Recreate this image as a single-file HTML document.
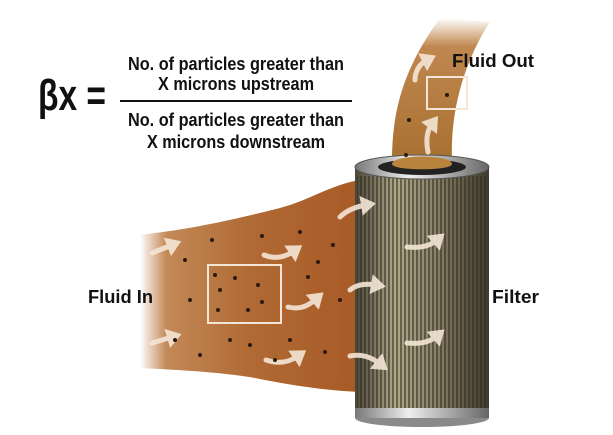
<!DOCTYPE html>
<html><head><style>
body{margin:0;background:#fff;}
svg{display:block}
text{font-family:"Liberation Sans",sans-serif;fill:#111;font-weight:bold}
</style></head><body>
<svg width="613" height="435" viewBox="0 0 613 435" xmlns="http://www.w3.org/2000/svg">
<defs>
<linearGradient id="fin" x1="0" x2="1" y1="0" y2="0">
<stop offset="0" stop-color="#b86a30" stop-opacity="0"/>
<stop offset="0.12" stop-color="#b8743a" stop-opacity="0.85"/>
<stop offset="0.5" stop-color="#b06a34"/>
<stop offset="1" stop-color="#a85a26"/>
</linearGradient>
<linearGradient id="fout" x1="0" x2="0" y1="0" y2="1">
<stop offset="0" stop-color="#c08850" stop-opacity="0"/>
<stop offset="0.2" stop-color="#c08850"/>
<stop offset="1" stop-color="#a87030"/>
</linearGradient>
<linearGradient id="cyl" x1="0" x2="1">
<stop offset="0" stop-color="#4a4636"/>
<stop offset="0.3" stop-color="#b0a888"/>
<stop offset="0.6" stop-color="#8a8266"/>
<stop offset="1" stop-color="#3e3a2c"/>
</linearGradient>
<pattern id="pl" width="4" height="6" patternUnits="userSpaceOnUse">
<rect width="2" height="6" fill="#2e2a20" opacity="0.55"/>
</pattern>
<linearGradient id="cap" x1="0" x2="1">
<stop offset="0" stop-color="#777"/><stop offset="0.4" stop-color="#eee"/><stop offset="1" stop-color="#666"/>
</linearGradient>
<marker id="ah" markerWidth="4" markerHeight="4" refX="1" refY="2" orient="auto" markerUnits="strokeWidth">
<path d="M0 0 L3 2 L0 4Z" fill="#f4e6d6"/>
</marker>
</defs>
<!-- formula -->
<text x="38" y="110" font-size="44" font-weight="normal" textLength="68" lengthAdjust="spacingAndGlyphs">βx =</text>
<text x="236" y="70" font-size="18" text-anchor="middle" textLength="216" lengthAdjust="spacingAndGlyphs">No. of particles greater than</text>
<text x="236" y="90" font-size="18" text-anchor="middle" textLength="156" lengthAdjust="spacingAndGlyphs">X microns upstream</text>
<rect x="120" y="100" width="232" height="2" fill="#111"/>
<text x="236" y="126" font-size="18" text-anchor="middle" textLength="216" lengthAdjust="spacingAndGlyphs">No. of particles greater than</text>
<text x="236" y="148" font-size="18" text-anchor="middle" textLength="178" lengthAdjust="spacingAndGlyphs">X microns downstream</text>
<!-- fluid in -->
<path d="M140 235 C200 228 240 218 280 208 C310 200 330 185 360 180 L360 392 C320 390 290 385 255 378 C220 372 180 370 140 368 Z" fill="url(#fin)"/>
<!-- fluid out -->
<path d="M392 160 C392 100 410 60 440 18 L490 22 C465 60 450 110 452 160 Z" fill="url(#fout)"/>
<!-- cylinder -->
<rect x="355" y="168" width="134" height="248" fill="url(#cyl)"/>
<rect x="357" y="176" width="130" height="236" fill="url(#pl)"/>
<ellipse cx="422" cy="418" rx="67" ry="9" fill="#8a8a8a"/>
<rect x="355" y="408" width="134" height="10" fill="url(#cap)"/>
<ellipse cx="422" cy="167" rx="67" ry="12" fill="url(#cap)" stroke="#555"/>
<ellipse cx="422" cy="167" rx="44" ry="8" fill="#222"/>
<path d="M392 164 C392 154 452 154 452 164 C452 171 392 171 392 164Z" fill="#b9843e"/>
<!-- boxes -->
<rect x="208" y="265" width="73" height="58" fill="none" stroke="#f3e6d6" stroke-width="2"/>
<rect x="427" y="77" width="40" height="32" fill="none" stroke="#f3e6d6" stroke-width="2"/>
<!-- arrows -->
<g fill="none" stroke="#f4e6d6" stroke-width="5" stroke-linecap="round" opacity="0.9" marker-end="url(#ah)">
<path d="M152 253 l20 -8"/><path d="M152 343 l20 -6"/>
<path d="M264 255 c10 4 20 3 30 -4"/><path d="M288 307 c12 3 20 -1 28 -8"/>
<path d="M266 360 c12 4 22 3 32 -4"/><path d="M340 217 c6 -6 14 -10 26 -12"/>
<path d="M350 290 c6 -5 14 -7 26 -5"/><path d="M350 356 c10 -2 20 0 30 8"/>
<path d="M407 247 c10 1 22 0 30 -7"/><path d="M407 343 c10 1 22 0 30 -7"/>
<path d="M428 152 c-2 -10 -2 -20 4 -28"/><path d="M415 80 c0 -8 4 -16 12 -20"/>
</g>
<g fill="#2a1a10">
<circle cx="215" cy="275" r="2"/><circle cx="235" cy="278" r="2"/><circle cx="220" cy="290" r="2"/><circle cx="258" cy="285" r="2"/><circle cx="218" cy="310" r="2"/><circle cx="248" cy="310" r="2"/><circle cx="262" cy="302" r="2"/><circle cx="185" cy="260" r="2"/><circle cx="190" cy="300" r="2"/><circle cx="212" cy="240" r="2"/><circle cx="262" cy="236" r="2"/><circle cx="300" cy="232" r="2"/><circle cx="318" cy="262" r="2"/><circle cx="308" cy="277" r="2"/><circle cx="230" cy="340" r="2"/><circle cx="250" cy="345" r="2"/><circle cx="325" cy="352" r="2"/><circle cx="333" cy="245" r="2"/><circle cx="200" cy="355" r="2"/><circle cx="275" cy="360" r="2"/><circle cx="290" cy="340" r="2"/><circle cx="175" cy="340" r="2"/><circle cx="447" cy="95" r="2"/><circle cx="409" cy="120" r="2"/><circle cx="406" cy="155" r="2"/><circle cx="340" cy="300" r="2"/>
</g>
<text x="452" y="67" font-size="18" textLength="82" lengthAdjust="spacingAndGlyphs">Fluid Out</text>
<text x="88" y="303" font-size="18" textLength="65" lengthAdjust="spacingAndGlyphs">Fluid In</text>
<text x="492" y="303" font-size="18" textLength="47" lengthAdjust="spacingAndGlyphs">Filter</text>
</svg>
</body></html>
